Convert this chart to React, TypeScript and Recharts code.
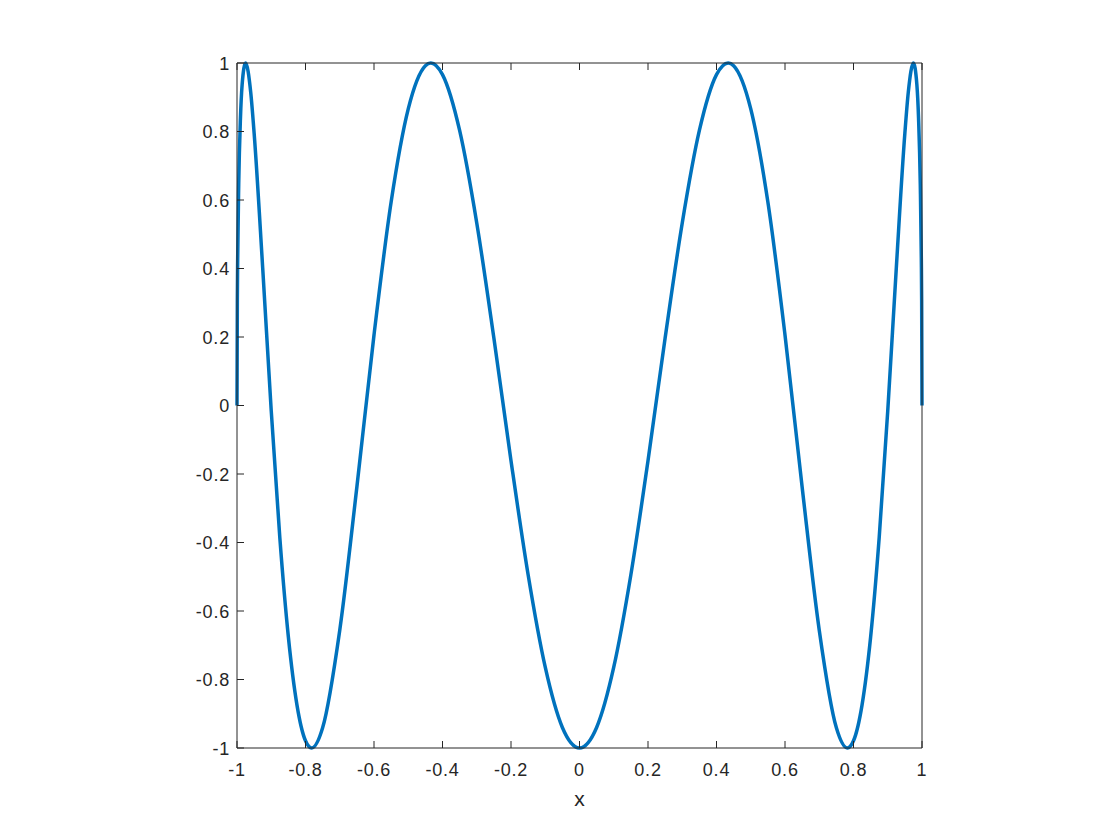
import { LineChart, Line, XAxis, YAxis } from "recharts";

// x positions and curve values (even curve, mirrored)
const xRight = [
  0, 0.05, 0.1, 0.15, 0.2, 0.25, 0.3, 0.35, 0.4, 0.434, 0.45, 0.5, 0.55, 0.6,
  0.65, 0.7, 0.75, 0.782, 0.8, 0.825, 0.85, 0.875, 0.9, 0.925, 0.95, 0.96,
  0.975, 0.985, 0.99, 0.995, 0.998, 0.999, 1,
];
const yRight = [
  -1, -0.94, -0.764, -0.494, -0.161, 0.197, 0.533, 0.803, 0.966, 1, 0.992,
  0.866, 0.594, 0.206, -0.238, -0.656, -0.941, -1, -0.979, -0.874, -0.676,
  -0.386, -0.016, 0.402, 0.795, 0.915, 1, 0.937, 0.837, 0.645, 0.429, 0.308, 0,
];

const xTicks = [-1, -0.8, -0.6, -0.4, -0.2, 0, 0.2, 0.4, 0.6, 0.8, 1];
const yTicks = [-1, -0.8, -0.6, -0.4, -0.2, 0, 0.2, 0.4, 0.6, 0.8, 1];

const data = [
  ...xRight
    .slice(1)
    .map((x, i) => ({ x: -x, y: yRight[i + 1] }))
    .reverse(),
  ...xRight.map((x, i) => ({ x, y: yRight[i] })),
];

const AXIS = "#262626";
const FONT = "Helvetica, Arial, 'Liberation Sans', sans-serif";
const TICK_LEN = 7;
const GAP = 10;

const bottomTick = (props: any) => {
  const { x, y, payload } = props;
  const ay = y - GAP;
  return (
    <g key={`b-${payload.value}`}>
      <line x1={x} x2={x} y1={ay} y2={ay - TICK_LEN} stroke={AXIS} />
      <text x={x} y={ay + 28} textAnchor="middle" fill={AXIS} fontSize={18} letterSpacing={0.8} fontFamily={FONT}>
        {payload.value}
      </text>
    </g>
  );
};

const topTick = (props: any) => {
  const { x, y, payload } = props;
  const ay = y + GAP;
  return <line key={`t-${payload.value}`} x1={x} x2={x} y1={ay} y2={ay + TICK_LEN} stroke={AXIS} />;
};

const leftTick = (props: any) => {
  const { x, y, payload } = props;
  const ax = x + GAP;
  return (
    <g key={`l-${payload.value}`}>
      <line x1={ax} x2={ax + TICK_LEN} y1={y} y2={y} stroke={AXIS} />
      <text x={ax - 7} y={y + 6.5} textAnchor="end" fill={AXIS} fontSize={18} letterSpacing={0.8} fontFamily={FONT}>
        {payload.value}
      </text>
    </g>
  );
};

const rightTick = (props: any) => {
  const { x, y, payload } = props;
  const ax = x - GAP;
  return <line key={`r-${payload.value}`} x1={ax} x2={ax - TICK_LEN} y1={y} y2={y} stroke={AXIS} />;
};

export default function App() {
  return (
    <div style={{ position: "absolute", left: 0, top: 0, width: 1120, height: 840, background: "#fff" }}>
      <LineChart
        width={1120}
        height={840}
        data={data}
        margin={{ top: 0, right: 0, bottom: 0, left: 0 }}
      >
        <XAxis
          xAxisId="b"
          dataKey="x"
          type="number"
          domain={[-1, 1]}
          ticks={xTicks}
          tickLine={false}
          tickSize={0}
          tickMargin={GAP}
          height={92}
          stroke={AXIS}
          tick={bottomTick}
          label={{ value: "x", position: "insideTop", offset: 43, fill: AXIS, fontSize: 21, fontFamily: FONT }}
        />
        <XAxis
          xAxisId="t"
          orientation="top"
          dataKey="x"
          type="number"
          domain={[-1, 1]}
          ticks={xTicks}
          tickLine={false}
          tickSize={0}
          tickMargin={GAP}
          height={63}
          stroke={AXIS}
          tick={topTick}
        />
        <YAxis
          yAxisId="l"
          type="number"
          domain={[-1, 1]}
          ticks={yTicks}
          tickLine={false}
          tickSize={0}
          tickMargin={GAP}
          width={237}
          stroke={AXIS}
          tick={leftTick}
        />
        <YAxis
          yAxisId="r"
          orientation="right"
          type="number"
          domain={[-1, 1]}
          ticks={yTicks}
          tickLine={false}
          tickSize={0}
          tickMargin={GAP}
          width={198}
          stroke={AXIS}
          tick={rightTick}
        />
        <Line
          xAxisId="b"
          yAxisId="l"
          dataKey="y"
          type="monotone"
          stroke="#0072BD"
          strokeWidth={3.5}
          dot={false}
          isAnimationActive={false}
        />
      </LineChart>
    </div>
  );
}
